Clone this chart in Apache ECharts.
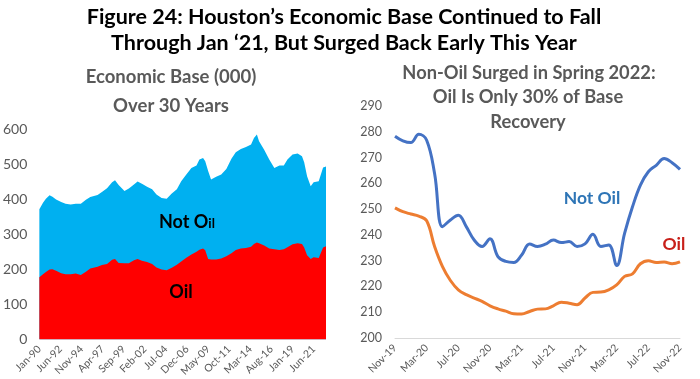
<!DOCTYPE html>
<html>
<head>
<meta charset="utf-8">
<script src="https://cdn.jsdelivr.net/npm/echarts@6/dist/echarts.min.js"></script>
<style>
html,body{margin:0;padding:0;background:#fff;}
#chart{width:700px;height:379px;}
</style>
</head>
<body>
<div id="chart"></div>
<script>
// ---------- Left chart: Economic Base (000), monthly since Jan 1990 ----------
// month offsets since Jan-1990 (0 = Jan-90, 394 = Nov-22)
const baseMonthIdx = [0,5,9,14,18,23,30,36,43,50,57,64,70,80,86,93,100,104,109,117,123,130,135,141,148,155,161,168,175,182,189,195,202,209,216,220,225,228,232,236,243,250,257,264,270,277,284,291,295,299,302,309,316,323,330,336,341,348,355,361,364,368,373,377,384,386,390,394];
const baseTotal = [371,390,401,411,407,399,392,387,385,387,387,398,406,412,420,431,448,454,440,423,430,442,450,444,435,428,413,403,401,416,428,451,470,489,496,513,517,508,480,456,464,470,486,515,534,543,549,556,574,584,565,541,513,489,496,496,513,527,530,522,505,465,437,448,451,447,490,493];
const baseOil   = [177,186,192,199,200,196,189,186,186,188,184,193,202,207,212,215,227,229,218,217,217,226,229,224,221,215,205,199,197,204,213,222,233,242,250,256,259,254,229,228,228,231,237,246,255,259,261,264,272,276,274,268,259,257,255,257,263,271,274,272,262,240,229,234,232,227,262,266];
const baseLastIdx = 394;
const baseTickStep = 29;

// ---------- Right chart: Nov-19 .. Nov-22 ----------
const recMonths = ['Nov-19','Dec-19','Jan-20','Feb-20','Mar-20','Apr-20','May-20','Jun-20','Jul-20','Aug-20','Sep-20','Oct-20','Nov-20','Dec-20','Jan-21','Feb-21','Mar-21','Apr-21','May-21','Jun-21','Jul-21','Aug-21','Sep-21','Oct-21','Nov-21','Dec-21','Jan-22','Feb-22','Mar-22','Apr-22','May-22','Jun-22','Jul-22','Aug-22','Sep-22','Oct-22','Nov-22'];
const recNotOil = [278.3,276.5,275.8,279.0,276.7,263.8,243.2,245.8,247.6,243.2,238.0,235.5,238.5,231.6,229.7,229.3,232.2,236.5,235.5,236.4,238.0,237.0,237.4,235.5,236.5,240.2,235.5,236.1,228.1,240.6,250.9,259.3,264.5,267.0,269.6,268.0,265.4];
const recOil    = [250.5,249.0,248.1,247.3,245.5,235.5,227.7,222.3,218.7,216.8,215.5,214.2,212.5,211.3,210.4,209.4,209.3,210.3,211.2,211.3,212.5,213.9,213.5,212.9,215.5,217.7,217.8,218.7,220.6,223.9,224.9,228.8,230.0,229.3,229.5,228.8,229.5];

const MONTHS = ['Jan','Feb','Mar','Apr','May','Jun','Jul','Aug','Sep','Oct','Nov','Dec'];
function monthLabel(idx){
  idx = Math.round(idx);
  const y = 1990 + Math.floor(idx/12);
  return MONTHS[idx%12] + '-' + String(y%100).padStart(2,'0');
}

const FONT = 'Lato, "Open Sans", sans-serif';
const GRAY = '#595959';

const totalData = baseMonthIdx.map((m,i)=>[m, baseTotal[i]]);
const oilData = baseMonthIdx.map((m,i)=>[m, baseOil[i]]);

const chart = echarts.init(document.getElementById('chart'), null, {renderer:'canvas'});

function txt(x, y, s, size, color){
  return {
    type:'text', x:x, y:y, z:100, zlevel:1, silent:true,
    style:{text:s, fontFamily:FONT, fontWeight:'bold', fontSize:size, fill:color, align:'center', verticalAlign:'middle'}
  };
}

const option = {
  animation:false,
  backgroundColor:'#ffffff',
  grid:[
    {left:37, right:374, top:129, bottom:38},
    {left:395, right:20, top:106, bottom:41}
  ],
  xAxis:[
    {type:'value', gridIndex:0, min:0, max:baseLastIdx, interval:baseTickStep,
     axisLine:{show:false}, axisTick:{show:false}, splitLine:{show:false},
     axisLabel:{rotate:45, margin:8, color:GRAY, fontFamily:FONT, fontSize:10.5, showMaxLabel:false,
       formatter:(v)=> (Math.round(v)%baseTickStep===0 ? monthLabel(v) : '')}},
    {type:'category', gridIndex:1, data:recMonths, boundaryGap:false,
     axisLine:{show:true, lineStyle:{color:'#D9D9D9', width:1}}, axisTick:{show:false},
     axisLabel:{rotate:45, margin:8, interval:3, color:GRAY, fontFamily:FONT, fontSize:10.5}}
  ],
  yAxis:[
    {type:'value', gridIndex:0, min:0, max:600, interval:100,
     axisLine:{show:false}, axisTick:{show:false}, splitLine:{show:false},
     axisLabel:{margin:12, color:GRAY, fontFamily:FONT, fontSize:14}},
    {type:'value', gridIndex:1, min:200, max:290, interval:10,
     axisLine:{show:false}, axisTick:{show:false}, splitLine:{show:false},
     axisLabel:{margin:13, color:GRAY, fontFamily:FONT, fontSize:12.5}}
  ],
  series:[
    {name:'Total', type:'line', xAxisIndex:0, yAxisIndex:0, data:totalData, showSymbol:false,
     lineStyle:{width:0}, areaStyle:{color:'#00B0F0', opacity:1}, z:1},
    {name:'Oil', type:'line', xAxisIndex:0, yAxisIndex:0, data:oilData, showSymbol:false,
     lineStyle:{width:0}, areaStyle:{color:'#FF0000', opacity:1}, z:2},
    {name:'Not Oil', type:'line', xAxisIndex:1, yAxisIndex:1, data:recNotOil, showSymbol:false, smooth:0.4,
     lineStyle:{width:3, color:'#4472C4'}, itemStyle:{color:'#4472C4'}},
    {name:'Oil ', type:'line', xAxisIndex:1, yAxisIndex:1, data:recOil, showSymbol:false, smooth:0.4,
     lineStyle:{width:3, color:'#ED7D31'}, itemStyle:{color:'#ED7D31'}}
  ],
  graphic:[
    txt(344, 17, 'Figure 24: Houston’s Economic Base Continued to Fall', 21.5, '#000'),
    txt(344, 43, 'Through Jan ‘21, But Surged Back Early This Year', 21.5, '#000'),
    txt(171, 77, 'Economic Base (000)', 18.5, GRAY),
    txt(171, 106, 'Over 30 Years', 18.5, GRAY),
    txt(529, 73, 'Non-Oil Surged in Spring 2022:', 18.3, GRAY),
    txt(528, 97, 'Oil Is Only 30% of Base', 18.3, GRAY),
    txt(528, 122, 'Recovery', 18.3, GRAY),
    {type:'text', x:159, y:222, z:100, zlevel:1, silent:true,
     style:{text:'{a|Not O}{b|il}', fontFamily:FONT, align:'left', verticalAlign:'middle',
       rich:{a:{fontFamily:FONT, fontWeight:'bold', fontSize:18, lineHeight:20, fill:'#000', color:'#000'},
             b:{fontFamily:FONT, fontWeight:'bold', fontSize:13, lineHeight:20, fill:'#000', color:'#000', padding:[3,0,0,0]}}}},
    txt(181, 292, 'Oil', 18, '#000'),
    txt(592, 198, 'Not Oil', 17.5, '#2E75B6'),
    txt(674, 244, 'Oil', 17.5, '#C8201A')
  ]
};
chart.setOption(option);
</script>
</body>
</html>
